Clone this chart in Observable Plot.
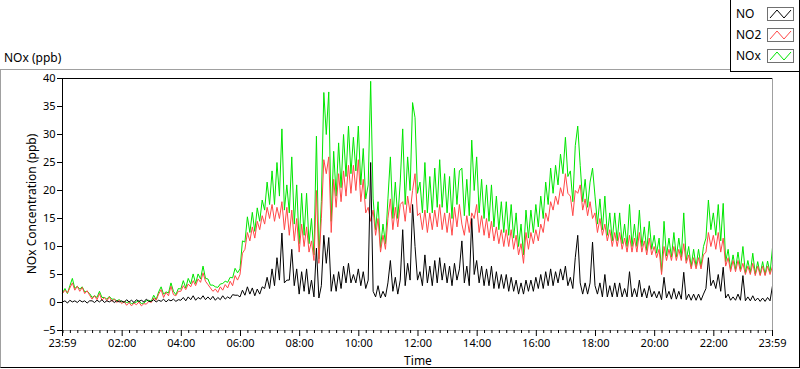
<!DOCTYPE html>
<html><head><meta charset="utf-8">
<script src="https://cdn.jsdelivr.net/npm/d3@7"></script>
<script src="https://cdn.jsdelivr.net/npm/@observablehq/plot@0.6"></script>
<style>
body{margin:0;background:#fff;font-family:"Noto Sans",sans-serif;font-size:12px;color:#000}
#wrap{position:relative;width:800px;height:369px;overflow:hidden;background:#fff}
#chart{position:absolute;left:0;top:0}
#frame{position:absolute;left:0;top:69px;width:800px;height:299px;box-sizing:border-box;border-top:1px solid #a0a0a0;border-left:1px solid #a0a0a0;border-right:1px solid #000;border-bottom:1px solid #000}
#legend{position:absolute;left:730px;top:0;width:70px;height:72px;box-sizing:border-box;background:#fff;border-left:1px solid #000;border-right:1px solid #000;border-bottom:1px solid #000}
.lg-text{position:absolute;left:5px;line-height:14px}
.lg-sw{position:absolute;left:36px;width:27px;height:14px;box-sizing:border-box;border:1px solid #707070;background:#fff}
.txt{position:absolute;white-space:nowrap;line-height:14px}
</style></head>
<body>
<div id="wrap">
  <div id="frame"></div>
  <div id="chart"></div>
  <div id="legend"></div>
  <div class="txt" id="ytitleTop" style="left:4px;top:51px"></div>
  <div class="txt" id="ytitle" style="left:32px;top:204px;transform:translate(-50%,-50%) rotate(-90deg)"></div>
  <div class="txt" id="xtitle" style="left:418px;top:354px;transform:translateX(-50%)"></div>
</div>
<script>
// ---- texts ----
const topLabel = "NOx (ppb)";
const yTitle = "NOx Concentration (ppb)";
const xTitle = "Time";
const seriesNames = ["NO", "NO2", "NOx"];
const seriesColors = ["#000000", "#ff4848", "#00e600"];
const yTicks = [-5, 0, 5, 10, 15, 20, 25, 30, 35, 40];
const xTickLabels = ["23:59","02:00","04:00","06:00","08:00","10:00","12:00","14:00","16:00","18:00","20:00","22:00","23:59"];
const stepMinutes = 5; // one sample every 5 minutes, starting at 23:59

// ---- data (ppb), 5-minute samples from 23:59 to 23:59, one row per hour ----
const NO = [
0.1,0.3,-0.1,0.4,0.1,0.3,0.0,0.4,0.1,0.3,-0.1,0.3,
0.3,0.0,0.4,0.1,0.5,0.0,0.3,0.1,0.4,0.0,0.3,0.1,
0.3,0.0,0.5,0.1,0.4,0.0,0.5,0.2,0.4,0.1,0.6,0.2,
0.2,0.5,0.1,0.4,0.2,0.6,0.1,0.5,0.3,0.6,0.2,0.5,
0.4,0.9,0.3,1.0,0.5,1.2,0.4,0.9,0.6,1.2,0.5,1.0,
0.5,1.1,0.4,0.9,0.5,1.2,0.6,1.0,0.7,1.4,1.3,1.3,
1.0,2.2,1.3,2.8,1.5,2.6,1.2,2.4,1.5,2.8,2.5,4.5,
2.5,6.0,3.0,8.0,4.0,12.4,3.5,4.0,4.0,9.5,3.0,6.0,
1.5,5.5,2.0,6.0,1.5,4.0,1.0,9.7,0.8,3.0,12.0,7.0,
11.6,2.0,5.0,2.0,5.5,2.5,6.5,3.5,7.0,3.5,5.0,3.5,
6.0,3.0,5.5,2.5,4.0,25.0,2.0,1.0,3.0,0.8,2.0,1.0,
3.5,7.5,2.0,4.5,1.5,4.0,13.0,3.0,7.0,4.0,17.5,10.0,
4.0,5.5,3.0,8.5,3.5,6.5,3.0,7.5,3.5,8.0,4.0,7.0,
3.5,6.5,3.0,7.0,4.0,6.0,11.0,3.5,6.5,3.0,15.0,5.0,
7.5,3.5,6.5,3.0,6.0,3.0,6.5,2.5,5.5,2.5,5.0,2.5,
5.0,2.0,4.5,2.0,4.0,1.5,3.5,1.5,4.0,2.0,4.0,2.0,
4.5,2.5,5.0,2.5,5.5,3.0,6.0,3.0,5.5,3.5,6.0,4.0,
6.5,3.0,4.5,2.5,8.0,12.0,3.5,1.5,3.5,1.5,3.5,10.8,
3.0,1.5,3.5,1.0,5.0,1.0,3.0,1.0,3.5,1.0,3.5,1.0,
2.5,1.0,5.5,1.0,2.5,1.0,4.0,1.0,2.5,0.8,3.0,1.0,
2.0,0.8,2.0,0.5,4.5,0.8,2.0,0.6,2.5,0.6,2.0,0.6,
5.4,0.5,1.5,0.4,1.5,0.4,1.5,0.4,1.5,2.5,8.0,3.0,
4.0,2.5,5.0,2.0,6.3,0.8,1.5,0.4,1.0,0.4,1.5,0.4,
4.8,0.3,1.0,0.3,1.2,0.3,0.8,0.2,0.8,0.2,0.9,0.3,
3.0];

const NO2 = [
1.6,2.2,1.7,2.6,3.5,2.2,2.9,2.0,2.7,1.6,2.1,1.3,
0.6,1.2,0.5,1.6,0.4,0.9,0.3,1.0,0.2,0.6,0.0,0.4,
-0.2,0.2,-0.5,0.0,-0.6,-0.1,-0.4,0.1,-0.6,-0.2,-0.3,0.2,
0.0,0.8,0.4,1.5,2.3,0.9,1.8,1.2,2.9,1.4,1.2,2.0,
2.0,3.0,2.3,3.3,2.8,3.9,3.0,4.2,3.6,5.3,3.8,3.2,
2.6,2.0,2.4,1.8,2.8,2.2,3.2,2.6,3.8,3.0,4.8,4.0,
5.0,8.8,9.5,12.5,11.0,13.5,11.5,14.5,13.0,15.5,14.0,17.0,
15.0,17.5,14.5,17.0,15.0,18.0,13.0,17.0,12.0,16.5,11.0,15.0,
9.0,14.0,10.0,13.5,9.0,11.0,7.5,20.0,7.0,15.0,25.5,23.0,
26.0,12.5,22.0,17.0,23.0,18.0,23.5,19.0,24.5,19.5,24.5,20.0,
25.5,18.0,22.0,16.0,17.0,14.5,16.5,12.0,15.0,9.0,12.0,9.5,
15.0,18.5,13.0,17.0,13.5,17.5,18.0,14.5,19.0,16.0,20.0,23.0,
15.5,16.0,13.0,16.5,12.5,16.0,13.0,16.5,13.5,17.5,13.0,16.0,
12.5,16.0,12.0,17.0,13.5,17.5,14.0,12.0,15.5,12.5,16.0,15.0,
17.5,12.5,15.5,12.0,15.0,11.5,14.5,11.0,13.5,10.5,13.0,10.0,
13.0,10.0,13.0,9.5,12.0,8.5,10.5,7.0,12.5,9.5,12.5,10.5,
13.0,11.0,14.0,12.5,16.0,14.5,18.0,16.5,19.0,17.5,20.5,19.0,
23.0,19.5,19.0,15.5,20.0,19.5,21.0,16.5,18.5,15.5,18.0,15.0,
16.0,12.5,15.0,12.0,14.0,11.0,13.0,10.0,12.5,10.0,12.5,9.5,
11.5,9.0,12.0,9.0,11.5,9.0,12.5,9.0,11.0,8.5,11.5,8.5,
10.0,8.0,9.5,5.0,10.0,7.5,9.5,7.5,10.0,7.5,9.5,7.5,
10.5,7.0,8.5,6.0,8.0,6.0,8.0,6.0,8.5,9.0,12.5,10.0,
12.0,9.5,12.5,9.0,11.5,6.5,8.0,5.5,7.5,5.5,7.5,5.5,
7.0,5.0,6.5,5.0,7.0,4.8,6.5,4.8,6.5,4.8,6.5,5.0,
6.5];

const NOx = [
1.7,2.5,1.6,3.0,4.3,2.5,2.9,2.4,2.8,1.9,2.0,1.6,
0.9,1.2,0.9,2.0,0.9,0.9,0.6,1.1,0.6,0.6,0.3,0.5,
0.1,0.2,0.0,0.1,-0.2,-0.1,0.1,0.3,-0.2,-0.1,0.3,0.4,
0.2,1.3,0.5,1.9,2.8,1.5,1.9,1.7,3.5,2.0,1.4,2.5,
2.4,3.9,2.6,4.3,3.3,5.1,3.4,5.1,4.2,6.5,4.3,4.2,
3.1,3.1,2.8,2.7,3.3,3.4,3.8,3.6,4.5,4.4,6.1,5.3,
6.0,11.0,10.8,15.3,12.5,16.1,12.7,16.9,14.5,18.3,16.5,21.5,
17.5,23.5,17.5,25.0,19.0,31.0,16.5,21.0,16.0,26.0,14.0,21.0,
10.5,19.5,12.0,19.5,10.5,15.0,8.5,29.7,7.8,18.0,37.5,30.0,
37.6,14.5,27.0,19.0,28.5,20.5,30.0,22.5,31.5,23.0,29.5,23.5,
31.5,21.0,27.5,18.5,21.0,39.5,18.5,13.0,18.0,9.8,14.0,10.5,
18.5,26.0,15.0,21.5,15.0,21.5,31.0,17.5,26.0,20.0,35.7,33.0,
19.5,21.5,16.0,25.0,16.0,22.5,16.0,24.0,17.0,25.5,17.0,23.0,
16.0,22.5,15.0,24.0,17.5,23.5,24.0,15.5,22.0,15.5,29.0,20.0,
26.0,16.0,22.0,15.0,21.0,14.5,21.0,13.5,19.0,13.0,18.0,12.5,
18.0,12.0,17.5,11.5,16.0,10.0,14.0,8.5,16.5,11.5,16.5,12.5,
17.5,13.5,19.0,15.0,21.5,17.5,24.0,19.5,24.5,21.0,26.5,23.0,
29.5,22.5,23.5,18.0,28.0,31.5,24.5,18.0,22.0,17.0,21.5,24.0,
19.0,14.0,18.5,13.0,19.0,12.0,16.0,11.0,16.0,11.0,16.0,10.5,
14.0,10.0,17.5,10.0,14.0,10.0,16.5,10.0,13.5,9.3,14.5,9.5,
12.0,8.8,11.5,5.5,14.5,8.3,11.5,8.1,12.5,8.1,11.5,8.1,
16.0,7.5,10.0,6.4,9.5,6.4,9.5,6.4,10.0,11.5,18.3,13.0,
16.0,12.0,17.5,11.0,17.7,7.3,9.5,5.9,8.5,5.9,9.0,5.9,
10.0,5.3,7.5,5.3,8.8,5.1,7.3,5.0,7.3,5.0,7.4,5.3,
9.8];

// ---- build tidy rows ----
const seriesValues = [NO, NO2, NOx];
const rows = seriesNames.map((name, s) => seriesValues[s].map((v, i) => ({series: name, t: i * stepMinutes, v})));

// tick positions in minutes after 23:59
const startClock = 23 * 60 + 59;
function toOffset(label, i) {
  if (i === xTickLabels.length - 1) return 1440;
  const [h, m] = label.split(":").map(Number);
  return ((h * 60 + m) - startClock + 1440) % 1440;
}
const majorPos = xTickLabels.map(toOffset);
const labelAt = new Map(majorPos.map((p, i) => [p, xTickLabels[i]]));
const minorPos = d3.range(0, 1440, 15).map(c => ((c - startClock + 1440) % 1440)).filter(p => !labelAt.has(p));

const chart = Plot.plot({
  width: 800, height: 369,
  marginLeft: 62, marginRight: 28, marginTop: 78, marginBottom: 39,
  style: {fontFamily: "Noto Sans", fontSize: "11px", background: "transparent", color: "#000", overflow: "visible"},
  x: {domain: [0, 1440], label: null},
  y: {domain: [-5, 40], label: null},
  marks: [
    Plot.line(rows[2], {x: "t", y: "v", stroke: seriesColors[2], strokeWidth: 1}),
    Plot.line(rows[1], {x: "t", y: "v", stroke: seriesColors[1], strokeWidth: 1}),
    Plot.line(rows[0], {x: "t", y: "v", stroke: seriesColors[0], strokeWidth: 1}),
    Plot.ruleY([40], {stroke: "#000"}),
    Plot.ruleY([-5], {stroke: "#a0a0a0"}),
    Plot.ruleX([0], {stroke: "#000"}),
    Plot.ruleX([1440], {stroke: "#a0a0a0"}),
    Plot.axisY(yTicks, {tickSize: 5, tickPadding: 2, label: null}),
    Plot.axisX(majorPos, {tickSize: 6, tickPadding: 3, tickFormat: d => labelAt.get(d), label: null}),
    Plot.axisX(minorPos, {tickSize: 3, tickFormat: () => "", label: null})
  ]
});
document.getElementById("chart").appendChild(chart);

// ---- html texts ----
document.getElementById("ytitleTop").textContent = topLabel;
document.getElementById("ytitle").textContent = yTitle;
document.getElementById("xtitle").textContent = xTitle;

// ---- legend ----
const legend = document.getElementById("legend");
seriesNames.forEach((name, i) => {
  const top = 7 + i * 21;
  const t = document.createElement("div");
  t.className = "lg-text";
  t.style.top = top + "px";
  t.textContent = name;
  legend.appendChild(t);
  const sw = document.createElement("div");
  sw.className = "lg-sw";
  sw.style.top = top + "px";
  sw.innerHTML = `<svg width="25" height="12" style="position:absolute;left:0;top:0"><polyline points="2,10 9,2 16,10 23,2" fill="none" stroke="${seriesColors[i]}" stroke-width="1"/></svg>`;
  legend.appendChild(sw);
});
</script>
</body></html>
